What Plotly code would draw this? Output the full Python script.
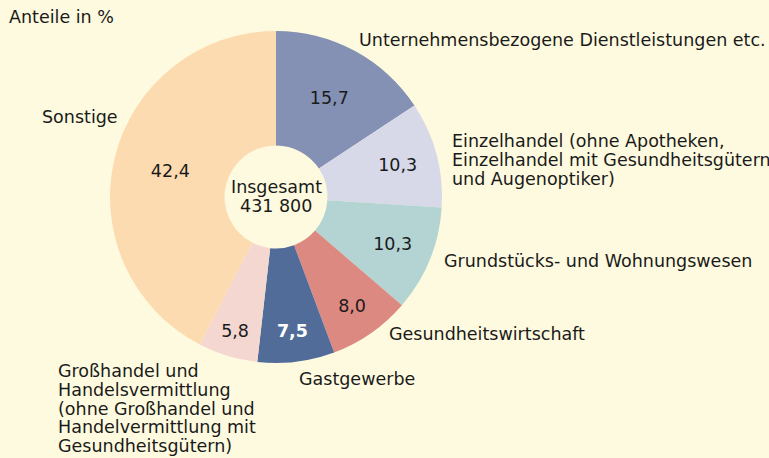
import plotly.graph_objects as go

W, H = 769, 458

categories = [
    "Unternehmensbezogene Dienstleistungen etc.",
    "Einzelhandel (ohne Apotheken, Einzelhandel mit Gesundheitsgütern und Augenoptiker)",
    "Grundstücks- und Wohnungswesen",
    "Gesundheitswirtschaft",
    "Gastgewerbe",
    "Großhandel und Handelsvermittlung (ohne Großhandel und Handelvermittlung mit Gesundheitsgütern)",
    "Sonstige",
]
values = [15.7, 10.3, 10.3, 8.0, 7.5, 5.8, 42.4]
total_lines = ["Insgesamt", "431 800"]
colors = ["#8491B4", "#D7D9E8", "#B3D4D3", "#DC8981", "#516C99", "#F4D7D1", "#FDDBB0"]
text_colors = ["#1a1a1a"] * 4 + ["#ffffff"] + ["#1a1a1a"] * 2
templates = ["%{value:.1f}"] * 4 + ["<b>%{value:.1f}</b>"] + ["%{value:.1f}"] * 2

# outer label lines and the pixel anchor (left x, centre y of first line)
label_lines = [
    ["Unternehmensbezogene Dienstleistungen etc."],
    ["Einzelhandel (ohne Apotheken,", "Einzelhandel mit Gesundheitsgütern", "und Augenoptiker)"],
    ["Grundstücks- und Wohnungswesen"],
    ["Gesundheitswirtschaft"],
    ["Gastgewerbe"],
    ["Großhandel und", "Handelsvermittlung", "(ohne Großhandel und", "Handelvermittlung mit", "Gesundheitsgütern)"],
    ["Sonstige"],
]
label_pos = [(357, 40), (450, 141), (442, 261), (387, 334), (297, 379), (56, 371), (40, 117)]
LINE_H = 18.8

FONT = "DejaVu Sans, Liberation Sans, Arial, sans-serif"
FS = 17.5
BG = "#FEFADF"
INK = "#1a1a1a"

cx, cy, r = 276, 197, 166

fig = go.Figure(go.Pie(
    labels=categories,
    values=values,
    sort=False,
    direction="clockwise",
    rotation=0,
    hole=0.31,
    marker=dict(colors=colors, line=dict(width=0)),
    texttemplate=templates,
    textposition="inside",
    insidetextorientation="horizontal",
    insidetextfont=dict(family=FONT, size=FS, color=text_colors),
    showlegend=False,
    domain=dict(x=[(cx - r) / W, (cx + r) / W], y=[1 - (cy + r) / H, 1 - (cy - r) / H]),
))

anns = [dict(text="Anteile in %", x=7 / W, y=1 - 17 / H, xanchor="left", yanchor="middle")]
for lines, (px, py) in zip(label_lines, label_pos):
    for i, t in enumerate(lines):
        anns.append(dict(text=t, x=px / W, y=1 - (py + i * LINE_H) / H,
                         xanchor="left", yanchor="middle", align="left"))
for i, t in enumerate(total_lines):
    anns.append(dict(text=t, x=cx / W, y=1 - (187 + i * 19) / H, xanchor="center", yanchor="middle"))
for a in anns:
    a.update(xref="paper", yref="paper", showarrow=False, font=dict(family=FONT, size=FS, color=INK))

fig.update_layout(
    width=W, height=H,
    margin=dict(l=0, r=0, t=0, b=0),
    paper_bgcolor=BG, plot_bgcolor=BG,
    separators=",.",
    annotations=anns,
)

fig.write_html("out.html", config={"displayModeBar": False},
               post_script="document.body.style.margin='0px';")
